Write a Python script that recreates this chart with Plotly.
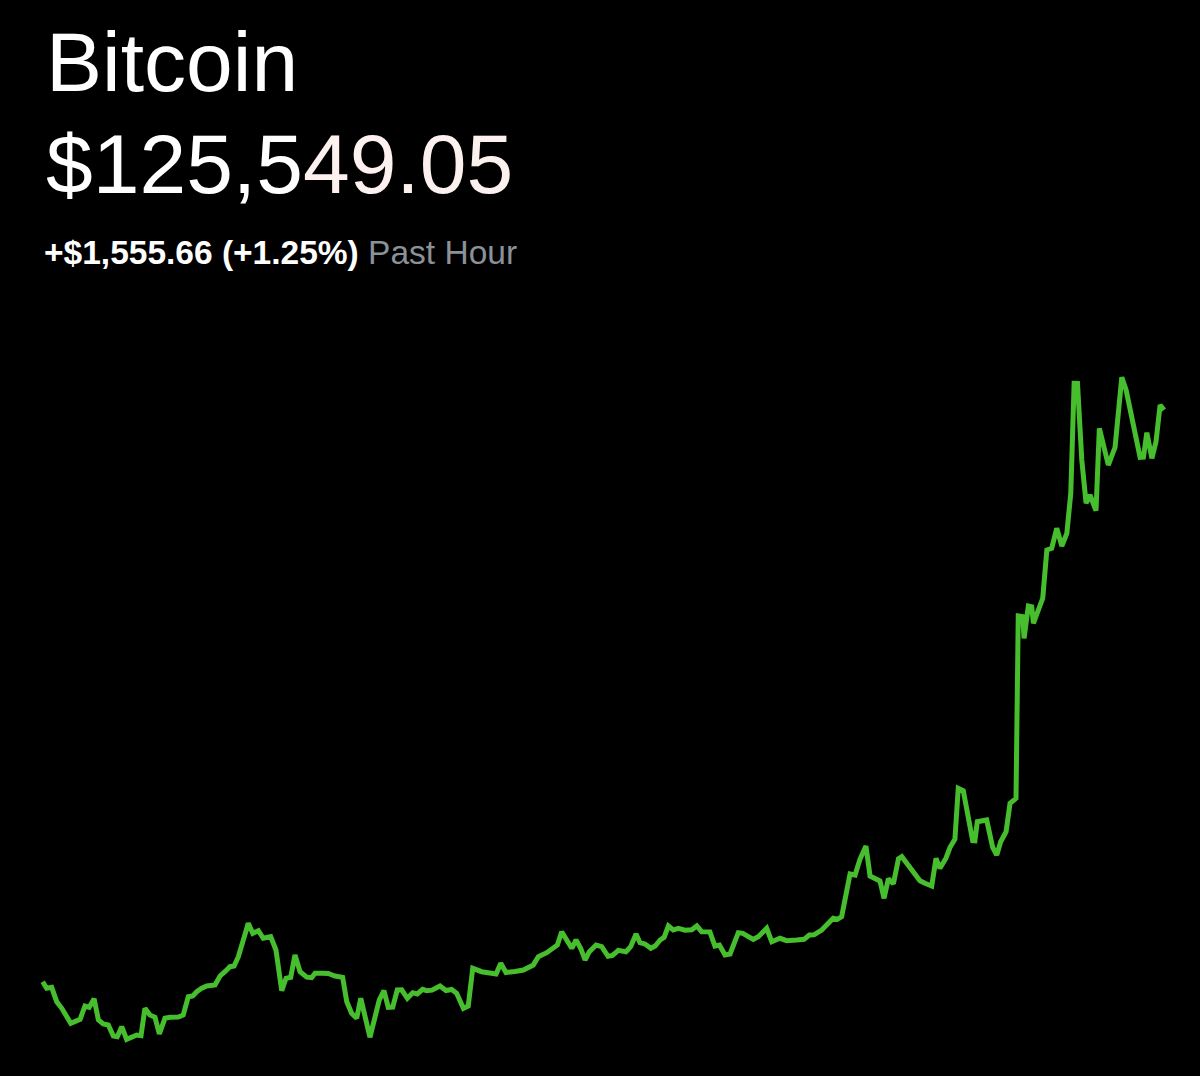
import plotly.graph_objects as go

# Minutes into the past hour
minutes = [
    0.00, 0.21, 0.48, 0.75, 1.02, 1.50, 2.00, 2.26, 2.49, 2.75,
    2.98, 3.24, 3.51, 3.78, 3.99, 4.23, 4.49, 4.76, 5.03, 5.26,
    5.47, 5.74, 6.01, 6.24, 6.54, 6.81, 7.26, 7.52, 7.79, 8.03,
    8.24, 8.51, 8.78, 9.22, 9.49, 9.75, 10.02, 10.24, 10.47, 11.00,
    11.24, 11.54, 11.80, 12.20, 12.48, 12.79, 13.02, 13.27, 13.50, 13.77,
    14.13, 14.39, 14.57, 14.93, 15.28, 15.64, 16.05, 16.27, 16.53, 16.80,
    17.02, 17.51, 18.01, 18.26, 18.49, 18.73, 18.97, 19.21, 19.51, 19.80,
    20.04, 20.33, 20.55, 20.83, 21.26, 21.58, 21.88, 22.15, 22.51, 22.77,
    23.01, 23.49, 24.03, 24.26, 24.51, 24.79, 25.27, 25.72, 26.25, 26.52,
    26.97, 27.41, 27.54, 27.77, 28.04, 28.31, 28.54, 28.79, 29.02, 29.25,
    29.61, 29.91, 30.25, 30.49, 30.80, 31.21, 31.46, 31.75, 31.96, 32.23,
    32.54, 32.77, 33.04, 33.25, 33.48, 33.74, 34.01, 34.37, 34.73, 35.00,
    35.26, 35.70, 35.97, 36.21, 36.51, 36.78, 37.22, 37.46, 38.02, 38.29,
    38.74, 39.01, 39.45, 39.81, 40.35, 40.74, 41.02, 41.27, 41.68, 42.04,
    42.30, 42.52, 42.75, 43.20, 43.47, 43.73, 44.05, 44.27, 44.63, 44.80,
    45.02, 45.25, 45.52, 45.79, 45.97, 46.94, 47.21, 47.57, 47.80, 48.01,
    48.33, 48.55, 48.81, 48.99, 49.26, 49.76, 49.88, 50.01, 50.51, 50.83,
    51.05, 51.26, 51.55, 51.76, 52.08, 52.20, 52.44, 52.51, 52.74, 52.92,
    53.01, 53.51, 53.73, 53.99, 54.26, 54.53, 54.80, 55.01, 55.19, 55.37,
    55.60, 55.83, 56.04, 56.36, 56.54, 57.02, 57.38, 57.74, 57.97, 58.72,
    58.90, 59.08, 59.35, 59.57, 59.79, 60.00,
]

# Bitcoin price (USD)
prices = [
    123993.39, 123975.43, 123978.15, 123938.97, 123921.01, 123880.19, 123891.08, 123927.27, 123923.73, 123947.13,
    123889.17, 123878.29, 123875.57, 123845.63, 123843.73, 123870.94, 123836.65, 123841.01, 123848.36, 123846.45,
    123921.01, 123902.78, 123896.52, 123851.08, 123893.80, 123896.52, 123897.10, 123902.78, 123952.57, 123954.48,
    123966.18, 123975.43, 123981.69, 123984.41, 124008.90, 124020.60, 124034.21, 124036.11, 124061.42, 124152.30,
    124125.09, 124132.17, 124111.49, 124115.84, 124079.65, 123968.90, 124002.64, 124005.36, 124066.04, 124020.60,
    124005.90, 124004.27, 124016.25, 124016.25, 124015.80, 124008.90, 124005.36, 123938.97, 123907.40, 123893.80,
    123948.22, 123842.10, 123943.59, 123968.90, 123923.73, 123924.30, 123970.80, 123971.25, 123948.22, 123963.46,
    123959.92, 123972.71, 123968.90, 123970.35, 123981.69, 123969.40, 123972.20, 123961.83, 123921.01, 123927.27,
    124029.85, 124020.60, 124017.88, 124014.34, 124043.46, 124018.30, 124021.10, 124025.23, 124038.83, 124061.42,
    124072.30, 124087.00, 124093.25, 124129.45, 124106.86, 124084.27, 124107.30, 124083.80, 124052.44, 124075.02,
    124093.25, 124088.63, 124062.51, 124064.68, 124078.56, 124075.02, 124088.63, 124123.19, 124099.51, 124095.98,
    124084.27, 124090.53, 124106.86, 124114.21, 124144.96, 124134.07, 124138.70, 124133.60, 124134.50, 124144.96,
    124129.45, 124129.00, 124090.53, 124093.25, 124066.04, 124068.76, 124126.72, 124125.09, 124108.76, 124115.84,
    124138.70, 124102.23, 124111.49, 124104.96, 124106.86, 124108.76, 124120.47, 124120.90, 124134.07, 124150.40,
    124165.91, 124163.19, 124170.26, 124286.45, 124283.73, 124326.45, 124362.64, 124281.01, 124270.13, 124267.40,
    124220.33, 124273.39, 124260.06, 124327.81, 124333.53, 124268.22, 124261.15, 124253.80, 124329.17, 124301.96,
    124329.60, 124359.11, 124380.87, 124519.65, 124513.12, 124377.07, 124376.60, 124428.77, 124433.39, 124359.11,
    124338.15, 124374.34, 124401.56, 124478.83, 124492.44, 124988.50, 124986.59, 124927.82, 125015.71, 125013.80,
    124968.63, 125036.66, 125168.09, 125172.71, 125227.14, 125178.97, 125213.53, 125322.38, 125621.70, 125621.20,
    125412.99, 125295.16, 125317.75, 125275.03, 125499.25, 125399.40, 125447.55, 125638.02, 125603.46, 125420.33,
    125420.80, 125487.27, 125417.61, 125462.78, 125562.65, 125549.05,
]

asset_name = "Bitcoin"
current_price = "$125,549.05"
change_text = "+$1,555.66 (+1.25%)"
period_text = "Past Hour"

W, H = 1200, 1076

fig = go.Figure(
    go.Scatter(
        x=minutes,
        y=prices,
        mode="lines",
        line=dict(color="#46BE2D", width=5, shape="linear"),
        hoverinfo="skip",
    )
)

font_family = "Liberation Sans, Arial, Helvetica, sans-serif"

fig.add_annotation(
    x=44 / W, y=1 - 62 / H, xref="paper", yref="paper",
    xanchor="left", yanchor="middle", showarrow=False,
    text=asset_name, font=dict(family=font_family, size=84, color="#ffffff"),
)
fig.add_annotation(
    x=44 / W, y=1 - 164 / H, xref="paper", yref="paper",
    xanchor="left", yanchor="middle", showarrow=False,
    text=current_price[:6] + "<span style='color:#fcf1ee'>" + current_price[6:] + "</span>",
    font=dict(family=font_family, size=84, color="#ffffff"),
)
fig.add_annotation(
    x=42 / W, y=1 - 253 / H, xref="paper", yref="paper",
    xanchor="left", yanchor="middle", showarrow=False,
    text=f"<b>{change_text}</b> <span style='color:#8a9298'>{period_text}</span>",
    font=dict(family=font_family, size=33.5, color="#ffffff"),
)

fig.update_layout(
    width=W,
    height=H,
    margin=dict(l=0, r=0, t=0, b=0),
    paper_bgcolor="#000000",
    plot_bgcolor="#000000",
    showlegend=False,
    xaxis=dict(visible=False, range=[-2.285, 61.925], fixedrange=True),
    yaxis=dict(visible=False, range=[123736.8, 126664.7], fixedrange=True),
)

fig.write_html(
    "out.html",
    config={"displayModeBar": False},
    post_script="document.body.style.margin='0';document.body.style.background='#000';",
)
